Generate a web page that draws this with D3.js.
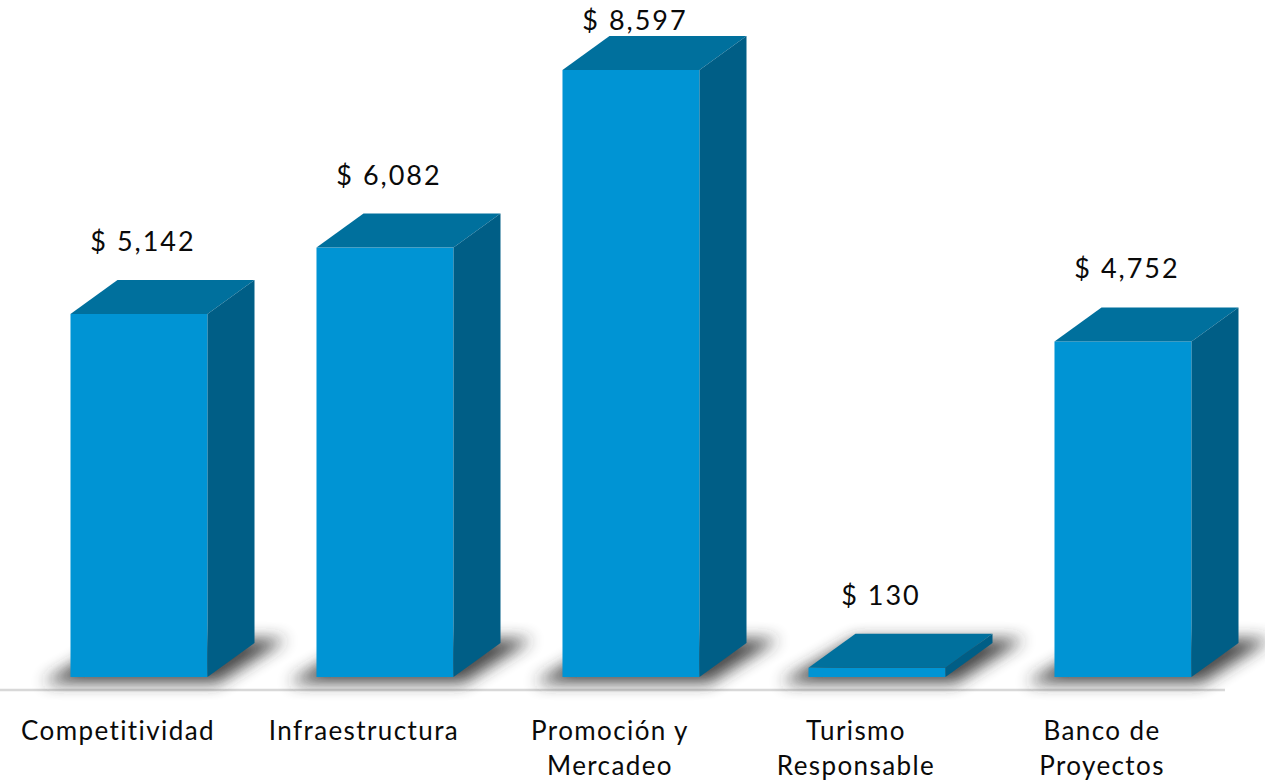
<!DOCTYPE html>
<html>
<head>
<meta charset="utf-8">
<script src="https://cdn.jsdelivr.net/npm/d3@7"></script>
<style>
  body { margin: 0; background: #fff; }
  text { font-family: 'Lato', 'Open Sans', sans-serif; fill: #0a0a0a; }
</style>
</head>
<body>
<svg id="canvas" width="1265" height="784"></svg>
<script>
let categories = [['Competitividad'], ['Infraestructura'], ['Promoción y', 'Mercadeo'], ['Turismo', 'Responsable'], ['Banco de', 'Proyectos']]
let values = [5142, 6082, 8597, 130, 4752]
let valueLabels = ['$ 5,142', '$ 6,082', '$ 8,597', '$ 130', '$ 4,752']

let canvas = d3.select('#canvas')

// depth of the 3d box
let dx = 47
let dy = -34

let x = d3.scaleBand()
  .domain(d3.range(values.length))
  .range([16, 1246])
  .paddingInner(0.443)
  .paddingOuter(0.2215)

let y = d3.scaleLinear()
  .domain([0, 8597])
  .range([677, 70])

let defs = canvas.append('defs')
defs.append('filter')
  .attr('id', 'blur')
  .attr('x', '-50%').attr('y', '-100%')
  .attr('width', '200%').attr('height', '300%')
  .append('feGaussianBlur')
  .attr('stdDeviation', 8)

// baseline
canvas.append('line')
  .attr('x1', 0).attr('x2', 1225)
  .attr('y1', 690).attr('y2', 690)
  .attr('stroke', '#d8d8d8')
  .attr('stroke-width', 2.5)

let bars = canvas.selectAll('g.bar')
  .data(values)
  .enter()
  .append('g')
  .attr('class', 'bar')

let pts = (arr) => arr.map(p => p.join(',')).join(' ')

// floor shadow
bars.append('polygon')
  .attr('points', (d, i) => {
    let x0 = x(i), x1 = x(i) + x.bandwidth(), b = y(0)
    return pts([[x0 - 28, b + 6], [x1 + 10, b + 6], [x1 + dx + 32, b + dy - 4], [x0 + dx, b + dy - 4]])
  })
  .attr('fill', '#2a2a2a')
  .attr('opacity', 0.85)
  .attr('filter', 'url(#blur)')

// front face
bars.append('rect')
  .attr('x', (d, i) => x(i))
  .attr('y', d => y(d))
  .attr('width', x.bandwidth())
  .attr('height', d => y(0) - y(d))
  .attr('fill', '#0094d4')

// top face
bars.append('polygon')
  .attr('points', (d, i) => {
    let x0 = x(i), x1 = x(i) + x.bandwidth(), t = y(d)
    return pts([[x0, t], [x1, t], [x1 + dx, t + dy], [x0 + dx, t + dy]])
  })
  .attr('fill', '#00709d')

// side face
bars.append('polygon')
  .attr('points', (d, i) => {
    let x1 = x(i) + x.bandwidth(), t = y(d), b = y(0)
    return pts([[x1, t], [x1 + dx, t + dy], [x1 + dx, b + dy], [x1, b]])
  })
  .attr('fill', '#005e86')

// value labels
bars.append('text')
  .attr('x', (d, i) => x(i) + x.bandwidth() / 2 + 4)
  .attr('y', d => Math.max(30, y(d) + dy - 29))
  .attr('text-anchor', 'middle')
  .attr('font-size', 27)
  .attr('letter-spacing', '2px')
  .text((d, i) => valueLabels[i])

// category labels
let cats = canvas.selectAll('text.cat')
  .data(categories)
  .enter()
  .append('text')
  .attr('class', 'cat')
  .attr('text-anchor', 'middle')
  .attr('font-size', 26)
  .attr('letter-spacing', '1.4px')

cats.selectAll('tspan')
  .data((d, i) => d.map(line => ({ line: line, i: i })))
  .enter()
  .append('tspan')
  .attr('x', d => x(d.i) + x.bandwidth() / 2 - 21)
  .attr('y', (d, j) => 740 + j * 35)
  .text(d => d.line)
</script>
</body>
</html>
